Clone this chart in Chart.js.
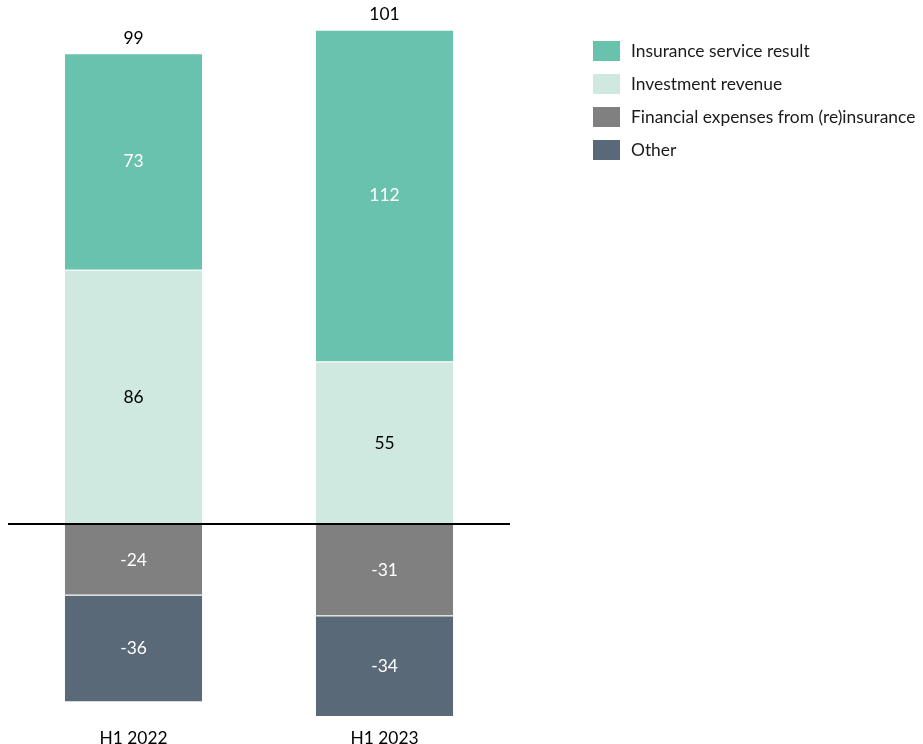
<!DOCTYPE html>
<html>
<head>
<meta charset="utf-8">
<script src="https://cdn.jsdelivr.net/npm/chart.js@4"></script>
<style>
html,body{margin:0;padding:0;background:#fff;}
#wrap{width:923px;height:744px;position:relative;}
</style>
</head>
<body>
<div id="wrap"><canvas id="c" width="923" height="744"></canvas></div>
<script>
const categories = ["H1 2022", "H1 2023"];
const insuranceServiceResult = [73, 112];
const investmentRevenue = [86, 55];
const financialExpenses = [-24, -31];
const other = [-36, -34];
const totals = [99, 101];
const seriesNames = ["Insurance service result", "Investment revenue", "Financial expenses from (re)insurance", "Other"];

const FONT = "Lato, 'Open Sans', sans-serif";
const FSIZE = 17.4;
const colors = ["#69C2AD", "#CFE8E0", "#808080", "#5A6977"];
const labelColors = ["#ffffff", "#000000", "#ffffff", "#ffffff"];

const seriesData = [insuranceServiceResult, investmentRevenue, financialExpenses, other];
// stacking order: investment revenue sits on the zero line, insurance result above it
const stackOrder = [1, 0, 2, 3];

const datasets = stackOrder.map(i => ({
  label: seriesNames[i],
  data: seriesData[i],
  backgroundColor: colors[i],
  borderColor: 'rgba(255,255,255,0.15)',
  borderWidth: 1,
  categoryPercentage: 1.0,
  barPercentage: 0.554,
  textColor: labelColors[i]
}));

const overlay = {
  id: 'overlay',
  afterDatasetsDraw(chart) {
    const ctx = chart.ctx;
    const y = chart.scales.y;
    const area = chart.chartArea;
    ctx.save();
    // zero line
    ctx.strokeStyle = '#000';
    ctx.lineWidth = 2;
    const y0 = Math.round(y.getPixelForValue(0));
    ctx.beginPath();
    ctx.moveTo(area.left, y0);
    ctx.lineTo(area.right, y0);
    ctx.stroke();
    // segment labels
    ctx.font = FSIZE + "px " + FONT;
    ctx.textAlign = 'center';
    ctx.textBaseline = 'middle';
    chart.data.datasets.forEach((ds, di) => {
      const meta = chart.getDatasetMeta(di);
      meta.data.forEach((bar, i) => {
        const cy = (bar.y + bar.base) / 2;
        ctx.fillStyle = ds.textColor;
        ctx.fillText(String(ds.data[i]), bar.x, cy);
      });
    });
    // totals above bars
    ctx.fillStyle = '#000';
    totals.forEach((t, i) => {
      let pos = 0;
      chart.data.datasets.forEach(ds => { if (ds.data[i] > 0) pos += ds.data[i]; });
      const x = chart.scales.x.getPixelForValue(i);
      ctx.fillText(String(t), x, y.getPixelForValue(pos) - 15);
    });
    // legend (in original series order)
    const lx = 593, ly = 41, step = 33;
    ctx.textAlign = 'left';
    seriesNames.forEach((name, k) => {
      const top = ly + k * step;
      ctx.fillStyle = colors[k];
      ctx.fillRect(lx, top, 27, 20);
      ctx.fillStyle = '#1a1a1a';
      ctx.fillText(name, lx + 38, top + 10.5);
    });
    ctx.restore();
  }
};

new Chart(document.getElementById('c'), {
  type: 'bar',
  data: { labels: categories, datasets },
  options: {
    responsive: false,
    animation: false,
    layout: { padding: { left: 8, right: 413, top: 0, bottom: 0 } },
    plugins: { legend: { display: false }, tooltip: { enabled: false } },
    scales: {
      x: {
        stacked: true,
        grid: { display: false },
        border: { display: false },
        ticks: { color: '#000', font: { family: FONT, size: FSIZE }, padding: 0 },
        afterFit(scale) { scale.height = 24; }
      },
      y: {
        stacked: true,
        display: false,
        min: -66.0,
        max: 177.0
      }
    }
  },
  plugins: [overlay]
});
</script>
</body>
</html>
